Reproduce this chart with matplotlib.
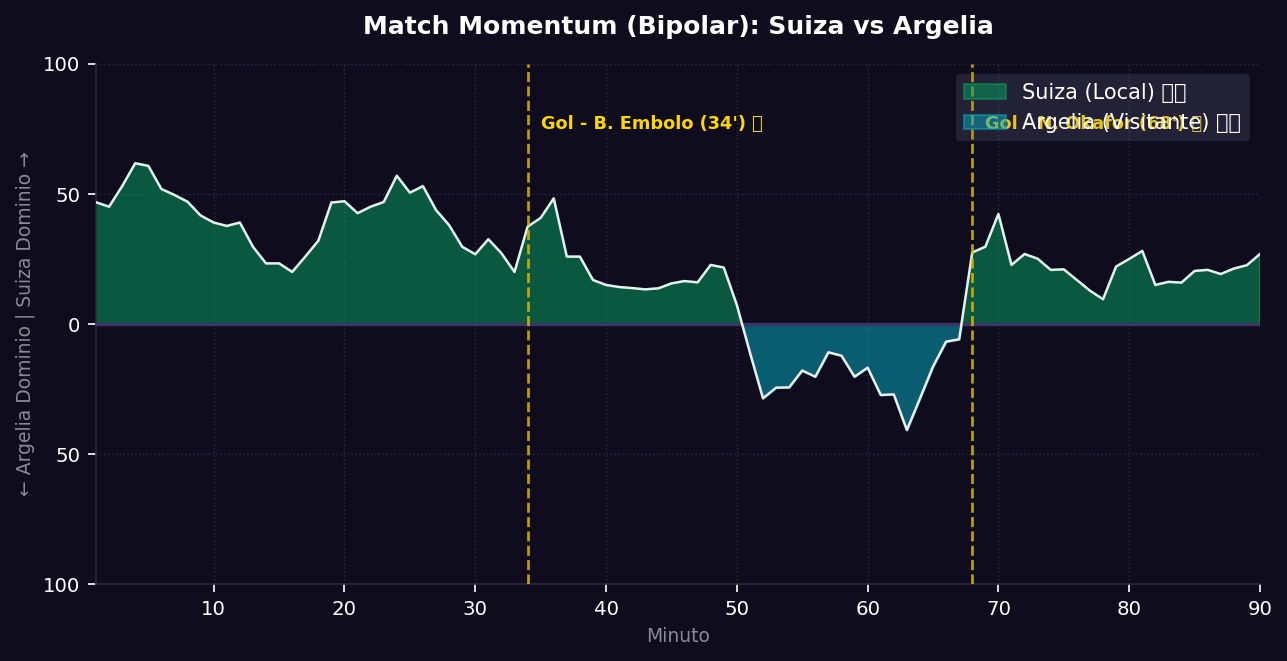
import numpy as np
import matplotlib
matplotlib.use("Agg")
from matplotlib import pyplot as plt
from matplotlib.ticker import FuncFormatter

# datos del momentum (positivo = Suiza, negativo = Argelia)
minutos = np.arange(1, 91)
momentum = [
    46.8, 45.1, 53.0, 61.8, 60.8, 51.9, 49.6, 47.0, 41.7, 39.0,
    37.7, 39.0, 29.7, 23.3, 23.3, 20.0, 25.9, 32.0, 46.7, 47.2,
    42.6, 45.1, 46.9, 57.0, 50.5, 53.0, 43.8, 38.0, 29.7, 26.8,
    32.6, 27.2, 20.0, 37.4, 40.8, 48.3, 25.9, 25.9, 16.9, 15.0,
    14.2, 13.8, 13.3, 13.7, 15.6, 16.5, 16.0, 22.7, 21.7, 7.3,
    -11.0, -28.6, -24.5, -24.4, -17.9, -20.3, -10.9, -12.2, -20.3, -16.8,
    -27.3, -27.1, -40.8, -28.7, -16.4, -6.8, -5.9, 27.5, 29.7, 42.3,
    22.7, 26.9, 25.1, 20.8, 21.0, 16.9, 12.8, 9.5, 22.1, 25.0,
    28.1, 15.0, 16.2, 15.9, 20.4, 20.8, 19.2, 21.3, 22.6, 26.9,
]
goles_min = [34, 68]
goles_txt = ["Gol - B. Embolo (34') \u26bd", "Gol - N. Okafor (68') \u26bd"]
equipos = ["Suiza (Local) \U0001F1E8\U0001F1ED", "Argelia (Visitante) \U0001F1E9\U0001F1FF"]

fondo = '#0e0c1d'
y = np.array(momentum)

fig = plt.figure(figsize=(8.58, 4.407), dpi=150, facecolor=fondo)
ax = fig.add_axes([0.0746, 0.1165, 0.9044, 0.7867])
ax.set_facecolor(fondo)

ax.fill_between(minutos, y, 0, where=y >= 0, interpolate=True,
                color='#06a462', alpha=0.5, label=equipos[0])
ax.fill_between(minutos, y, 0, where=y <= 0, interpolate=True,
                color='#08acc4', alpha=0.5, label=equipos[1])
ax.plot(minutos, y, color='#e6efec', lw=1.2, zorder=4)
ax.axhline(0, color='#3d3468', lw=1.6, zorder=3)

for m, t in zip(goles_min, goles_txt):
    ax.axvline(m, color='#e0b800', ls='--', lw=1.3, alpha=0.85, zorder=5)
    ax.text(m + 1, 77, t, color='#ffd700', fontsize=8.5, fontweight='bold',
            va='center', ha='left', zorder=1)

ax.set_xlim(1, 90)
ax.set_ylim(-100, 100)
ax.set_yticks([-100, -50, 0, 50, 100])
ax.yaxis.set_major_formatter(FuncFormatter(lambda v, p: f"{abs(int(v))}"))

ax.grid(True, ls=':', color='#2c2a44', lw=0.7)
ax.set_axisbelow(True)
for s in ['top', 'right']:
    ax.spines[s].set_visible(False)
for s in ['left', 'bottom']:
    ax.spines[s].set_color('#2a2840')
ax.tick_params(colors='white', labelsize=9.5, length=4)

ax.set_title('Match Momentum (Bipolar): Suiza vs Argelia', color='white',
             fontsize=12, fontweight='bold', pad=14.5)
ax.set_xlabel('Minuto', color='#8a8a96', fontsize=9)
ax.set_ylabel('\u2190 Argelia Dominio | Suiza Dominio \u2192', color='#8a8a96', fontsize=9)

# leyenda casi transparente: el texto del gol se ve debajo
leg = ax.legend(loc='upper right', fontsize=10, facecolor='#7a7896',
                edgecolor='none', framealpha=0.2, labelcolor='white')
leg.set_zorder(6)

fig.savefig('out.png', dpi=150, facecolor=fondo)
